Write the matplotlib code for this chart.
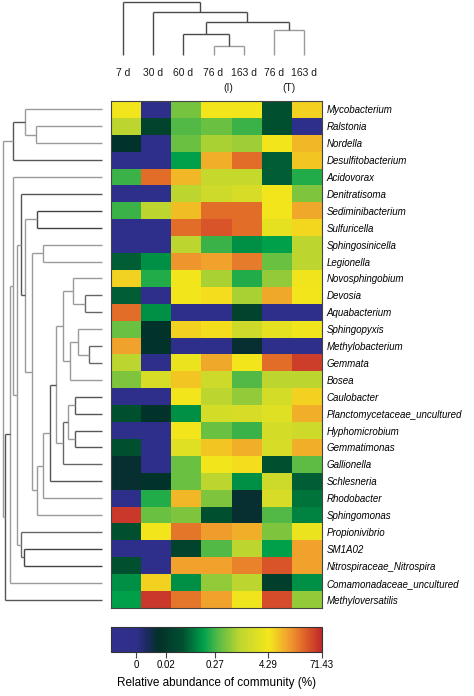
import numpy as np
import matplotlib
matplotlib.use("Agg")
import matplotlib.pyplot as plt
from matplotlib.colors import LinearSegmentedColormap
from matplotlib.transforms import blended_transform_factory

plt.rcParams['font.family'] = ['Liberation Sans', 'DejaVu Sans']

# samples (columns) and the two reactor groups
samples = ["7 d", "30 d", "60 d", "76 d", "163 d", "76 d", "163 d"]
group_labels = ["(I)", "(T)"]
group_cols = [(3, 4), (5, 6)]

taxa = ["Mycobacterium", "Ralstonia", "Nordella", "Desulfitobacterium", "Acidovorax",
        "Denitratisoma", "Sediminibacterium", "Sulfuricella", "Sphingosinicella",
        "Legionella", "Novosphingobium", "Devosia", "Aquabacterium", "Sphingopyxis",
        "Methylobacterium", "Gemmata", "Bosea", "Caulobacter",
        "Planctomycetaceae_uncultured", "Hyphomicrobium", "Gemmatimonas", "Gallionella",
        "Schlesneria", "Rhodobacter", "Sphingomonas", "Propionivibrio", "SM1A02",
        "Nitrospiraceae_Nitrospira", "Comamonadaceae_uncultured", "Methyloversatilis"]

# relative abundance (%)
abundance = np.array([
    [4.5, 0, 0.45, 4.5, 4.5, 0.05, 6],
    [1.0, 0.03, 0.3, 0.4, 0.25, 0.05, 0],
    [0.015, 0, 0.4, 0.8, 0.7, 4.5, 9],
    [0, 0, 0.15, 10, 25, 0.06, 7],
    [0.25, 25, 9, 1.2, 1.2, 0.06, 0.2],
    [0, 0, 1.0, 1.5, 2.0, 4.5, 0.5],
    [0.25, 1.0, 8, 25, 25, 4.5, 11],
    [0, 0, 25, 35, 25, 3, 5.5],
    [0, 0, 1.0, 0.25, 0.12, 0.15, 1.0],
    [0.06, 0.12, 14, 12, 20, 0.4, 1.0],
    [6, 0.2, 4.5, 0.8, 0.2, 0.6, 4],
    [0.06, 0, 4.5, 5, 0.8, 11, 4.5],
    [25, 0.12, 0, 0, 0.03, 0, 0],
    [0.4, 0.015, 6, 5, 1.5, 3, 4],
    [12, 0.015, 0, 0, 0.012, 0, 0],
    [1.0, 0, 3.5, 11, 4.5, 25, 50],
    [0.5, 2, 7, 1.5, 0.3, 1.0, 1.0],
    [0, 0, 4.5, 1.0, 0.6, 1.8, 6],
    [0.05, 0.015, 0.12, 1.8, 2, 2.5, 10],
    [0, 0, 4.5, 0.4, 0.25, 1.8, 1.5],
    [0.05, 0, 2.5, 7, 10, 2, 10],
    [0.012, 0, 0.4, 4.5, 5, 0.05, 0.35],
    [0.012, 0.015, 0.4, 1.0, 0.12, 1.5, 0.06],
    [0, 0.2, 9, 0.5, 0.012, 2, 0.08],
    [55, 0.4, 0.5, 0.05, 0.012, 0.3, 0.1],
    [0.05, 4.5, 22, 13, 10, 0.5, 3.5],
    [0, 0, 0.03, 0.3, 1.0, 0.15, 12],
    [0.05, 0, 12, 12, 18, 35, 12],
    [0.12, 6, 0.12, 0.6, 1.0, 0.025, 0.12],
    [0.15, 55, 22, 12, 4, 40, 0.6],
])

cbar_ticks = [0, 0.02, 0.27, 4.29, 71.43]
zero_floor = 0.0043   # where "0" sits on the log colour scale
scale_min = 0.00115

# row tree: (child, child, height); leaves 0..29, new nodes numbered from 30
row_merges = [
    (1, 2, 66), (0, 30, 77), (31, 3, 88.7),
    (6, 7, 64.7), (8, 9, 58.7),
    (11, 12, 17), (10, 35, 28.7), (14, 15, 12.7), (13, 37, 23.7), (38, 16, 32),
    (36, 39, 39.3),
    (17, 18, 27), (19, 20, 27), (41, 42, 33.7), (43, 21, 39.3),
    (40, 44, 46), (45, 22, 52), (46, 23, 59.3), (47, 24, 65.3),
    (34, 48, 70.3), (33, 49, 77), (5, 50, 81.3),
    (26, 27, 78), (25, 52, 81.3),
    (51, 53, 85.3), (4, 54, 88.7), (55, 28, 92), (56, 29, 96.7),
    (32, 57, 99.3),
]
# column tree, leaves 0..6
col_merges = [(3, 4, 9), (2, 7, 21), (5, 6, 25), (8, 9, 33), (1, 10, 43), (0, 11, 53)]

cmap = LinearSegmentedColormap.from_list("abund", [
    (0.00, "#332f8c"), (0.12, "#2e2f8a"), (0.17, "#1c2a60"), (0.22, "#03302a"),
    (0.34, "#005030"), (0.44, "#00a14b"), (0.50, "#4db848"), (0.61, "#bdd630"),
    (0.75, "#f4e61c"), (0.85, "#f09a2e"), (0.93, "#dc5a28"), (1.00, "#c0282c")])


def draw_dendro(ax, merges, n, orient, colors, default):
    pos = {i: float(i) for i in range(n)}
    hgt = {i: 0.0 for i in range(n)}
    for k, (a, b, h) in enumerate(merges):
        node = n + k
        c = colors.get(node, default)
        kw = dict(color=c, lw=1.0, solid_capstyle='butt', clip_on=False)
        for ch in (a, b):
            if orient == 'left':
                ax.plot([h, hgt[ch]], [pos[ch], pos[ch]], **kw)
            else:
                ax.plot([pos[ch], pos[ch]], [hgt[ch], h], **kw)
        if orient == 'left':
            ax.plot([h, h], [pos[a], pos[b]], **kw)
        else:
            ax.plot([pos[a], pos[b]], [h, h], **kw)
        pos[node] = (pos[a] + pos[b]) / 2
        hgt[node] = h
    ax.axis('off')


W, H = 474, 696
fig = plt.figure(figsize=(W / 100, H / 100), dpi=100)

# heatmap
ax = fig.add_axes([111 / W, 1 - 608 / H, 211 / W, 507 / H])
levels = np.log10(np.maximum(abundance, zero_floor))
im = ax.imshow(levels, cmap=cmap, vmin=np.log10(scale_min), vmax=np.log10(71.43),
               aspect='auto', interpolation='nearest')
ax.set_xticks([])
ax.yaxis.tick_right()
ax.set_yticks(range(len(taxa)))
ax.set_yticklabels(taxa, fontstyle='italic', fontsize=7)
ax.tick_params(axis='y', length=0, pad=3.5)
for s in ax.spines.values():
    s.set_color('#444444')
    s.set_linewidth(0.8)

# row dendrogram
axr = fig.add_axes([0, 1 - 608 / H, 111 / W, 507 / H])
axr.set_xlim(102, -9)
axr.set_ylim(len(taxa) - 0.5, -0.5)
dark_rows = {32: '#555555', 33: '#444444', 51: '#555555', 35: '#666666', 37: '#666666',
             41: '#555555', 42: '#555555', 44: '#666666', 46: '#555555', 52: '#444444',
             53: '#666666', 57: '#555555'}
draw_dendro(axr, row_merges, len(taxa), 'left', dark_rows, '#9a9a9a')

# column dendrogram (sits a few px left of the cells, as in the source)
axc = fig.add_axes([108 / W, 1 - 55 / H, 211 / W, 55 / H])
axc.set_xlim(-0.5, len(samples) - 0.5)
axc.set_ylim(0, 55)
draw_dendro(axc, col_merges, len(samples), 'top', {7: '#9a9a9a', 9: '#9a9a9a'}, '#4a4a4a')

tr = blended_transform_factory(axc.transData, fig.transFigure)
for j, s in enumerate(samples):
    fig.text(j, 1 - 73 / H, s, transform=tr, ha='center', va='center', fontsize=7.5,
             color='#1a1a1a', fontweight='medium')
for lab, (c0, c1) in zip(group_labels, group_cols):
    fig.text((c0 + c1) / 2, 1 - 88 / H, lab, transform=tr, ha='center', va='center',
             fontsize=7.5, color='#1a1a1a')

# colour bar
cax = fig.add_axes([111 / W, 1 - 652 / H, 211 / W, 25 / H])
tick_pos = [np.log10(max(t, zero_floor)) for t in cbar_ticks]
cb = fig.colorbar(im, cax=cax, orientation='horizontal', ticks=tick_pos)
cb.set_ticklabels([("%g" % t) for t in cbar_ticks])
cb.ax.tick_params(labelsize=7, length=4, width=0.8, color='#444444', pad=2)
cb.outline.set_edgecolor('#333333')
cb.outline.set_linewidth(0.8)
cb.set_label("Relative abundance of community (%)", fontsize=8.5, labelpad=5)

fig.savefig("out.png", dpi=100)
